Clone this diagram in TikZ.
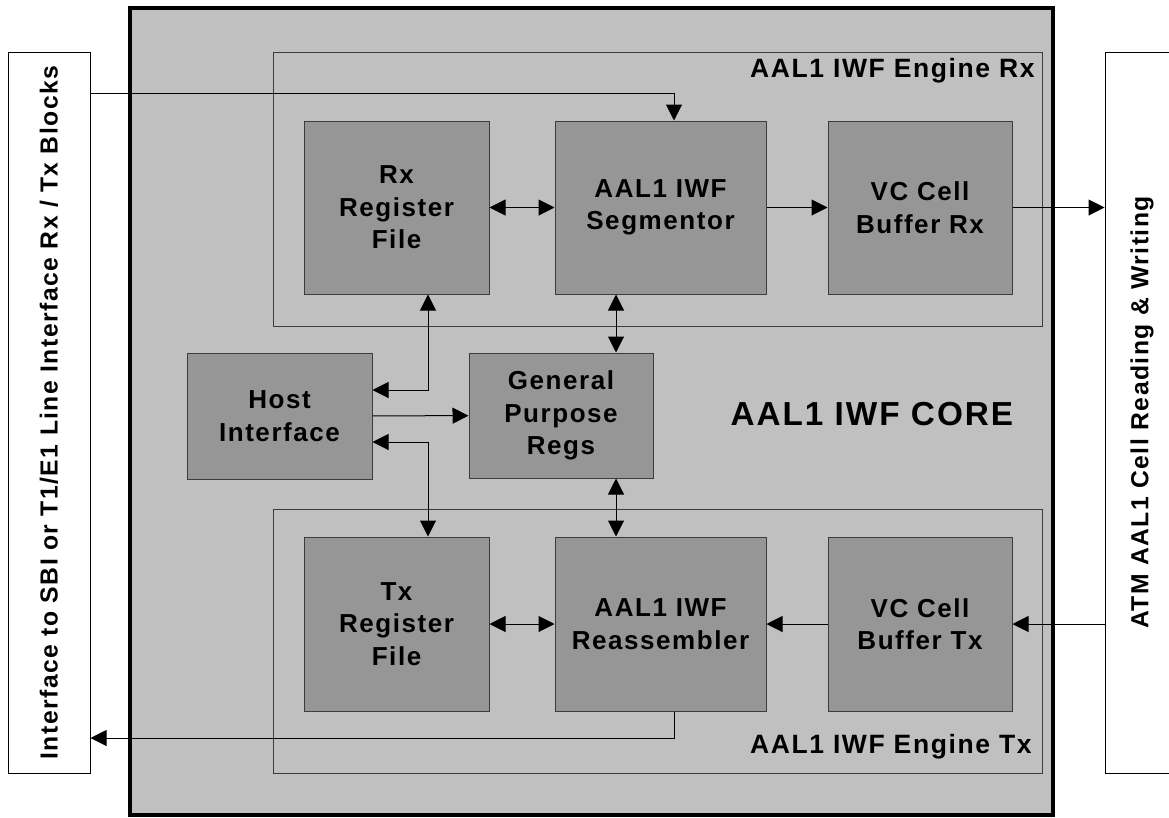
\documentclass[tikz,border=0pt]{standalone}
\usepackage{fontspec}
\setmainfont[LetterSpace=6]{Liberation Sans}
\usepackage{tikz}
\usetikzlibrary{arrows.meta,positioning}
\definecolor{coregray}{RGB}{192,192,192}
\definecolor{blockgray}{RGB}{150,150,150}
\definecolor{edgegray}{RGB}{60,60,60}
\tikzset{
  >={Triangle[length=16pt,width=16pt]},
  blk/.style={draw=edgegray,fill=blockgray,line width=1pt,inner sep=0pt,align=center,
    font=\fontsize{26}{32.5}\selectfont\bfseries},
  engine/.style={draw=edgegray,fill=coregray,line width=1pt,inner sep=0pt,minimum width=769pt},
  side/.style={draw,fill=white,line width=1pt,inner sep=0pt,minimum height=721pt},
  lbl/.style={font=\fontsize{24.7}{28}\selectfont\bfseries,inner sep=0pt},
  englbl/.style={font=\fontsize{26.5}{30}\selectfont\bfseries,inner sep=0pt,anchor=base east}
}
\begin{document}
\begin{tikzpicture}[x=1pt,y=-1pt,line width=1pt]
\useasboundingbox (0,0) rectangle (1169,817);
\node[draw,fill=coregray,line width=4pt,minimum width=923pt,minimum height=807pt] (core) at (591.5,411.5) {};
\node[side,minimum width=82pt] (lif) at (49,412.5) {};
\node[lbl,rotate=90] (liftext) at (lif) {Interface to SBI or T1/E1 Line Interface Rx / Tx Blocks};
\node[side,minimum width=74pt] (atm) at (1142,412.5) {};
\node[lbl,rotate=90] (atmtext) at (atm) {ATM AAL1 Cell Reading \& Writing};
\node[engine,minimum height=274pt] (rxe) at (657.5,189) {};
\node[englbl] (rxelbl) at (1035,77) {AAL1 IWF Engine Rx};
\node[engine,minimum height=264pt] (txe) at (657.5,641) {};
\node[englbl] (txelbl) at (1032,753) {AAL1 IWF Engine Tx};
\node[font=\fontsize{33.3}{38}\selectfont\bfseries,inner sep=0pt,anchor=base west] (title) at (730,425) {AAL1 IWF CORE};
\node[blk,minimum width=185pt,minimum height=173pt] (rxreg) at (396.5,207.5) {Rx\\Register\\File};
\node[blk,minimum width=211pt,minimum height=173pt] (seg) at (660.5,207.5) {AAL1 IWF\\Segmentor};
\node[blk,minimum width=184pt,minimum height=173pt] (rxbuf) at (920,207.5) {VC Cell\\Buffer Rx};
\node[blk,minimum width=185pt,minimum height=126pt] (host) at (279.5,416) {Host\\Interface};
\node[blk,minimum width=184pt,minimum height=125pt] (gpr) at (561,415.5) {General\\Purpose\\Regs};
\node[blk,minimum width=185pt,minimum height=174pt] (txreg) at (396.5,624) {Tx\\Register\\File};
\node[blk,minimum width=211pt,minimum height=174pt] (reas) at (660.5,624) {AAL1 IWF\\Reassembler};
\node[blk,minimum width=184pt,minimum height=174pt] (txbuf) at (920,624) {VC Cell\\Buffer Tx};
\draw[->] (lif.east |- 0,93) -| ([xshift=13.5pt]seg.north);
\draw[<->] (rxreg) -- (seg);
\draw[->] (seg) -- (rxbuf);
\draw[->] (rxbuf.east) -- (atm.west |- rxbuf.east);
\draw[<->] (seg.south -| 616,0) -- (gpr.north -| 616,0);
\draw[<->] ([xshift=31.5pt]rxreg.south) |- ([yshift=26pt]host.east);
\draw[->] (host) -- (gpr);
\draw[<->] ([yshift=-26pt]host.east) -| ([xshift=31.5pt]txreg.north);
\draw[<->] (gpr.south -| 616,0) -- (reas.north -| 616,0);
\draw[<->] (txreg) -- (reas);
\draw[->] (txbuf) -- (reas);
\draw[->] (atm.west |- txbuf.east) -- (txbuf.east);
\draw[->] ([xshift=13.5pt]reas.south) |- (lif.east |- 0,738);
\end{tikzpicture}
\end{document}
